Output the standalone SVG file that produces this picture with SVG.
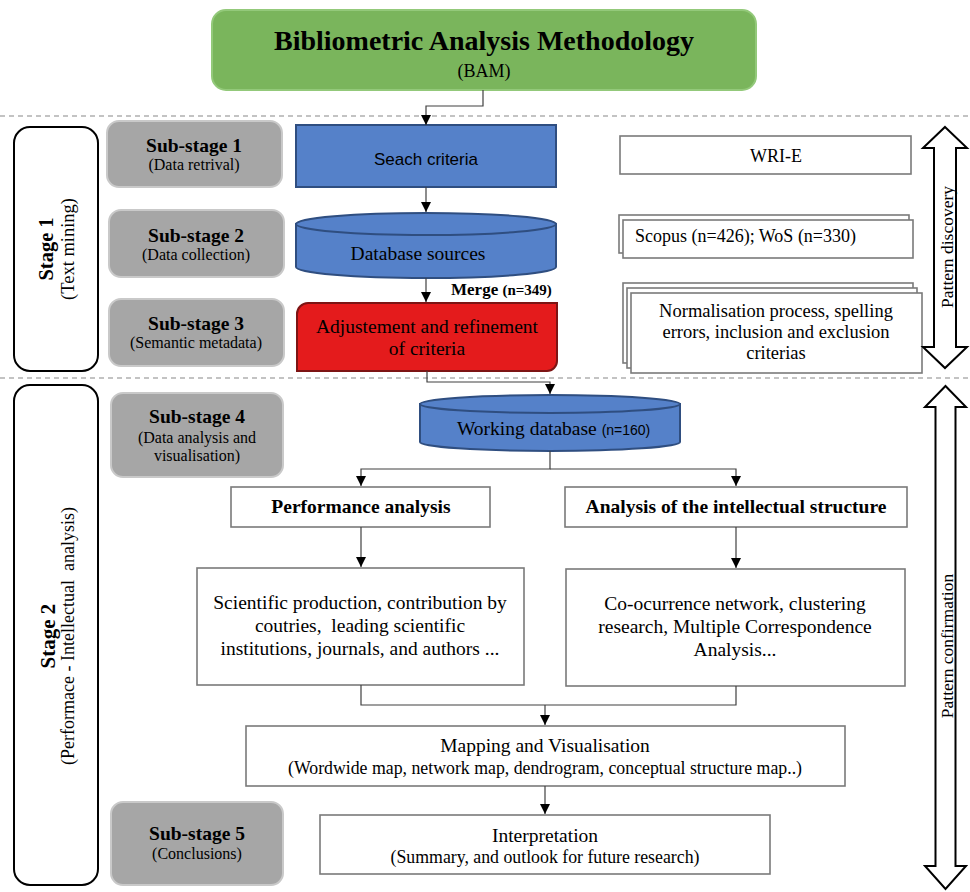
<svg xmlns="http://www.w3.org/2000/svg" width="970" height="892" viewBox="0 0 970 892">
<defs>
<marker id="ah" viewBox="0 0 10 10" refX="10" refY="5" markerWidth="10" markerHeight="10" markerUnits="userSpaceOnUse" orient="auto">
<path d="M0,0 L10,5 L0,10 Z" fill="#000"/>
</marker>
</defs>
<style>
text{font-family:"Liberation Serif","Times New Roman",serif;fill:#000}
.sans{font-family:"Liberation Sans",Arial,sans-serif}
.b{font-weight:bold}
.gray{fill:#a6a6a6;stroke:#c9c9c9;stroke-width:2}
.wb{fill:#fff;stroke:#7a7a7a;stroke-width:1.6}
.blue{fill:#5581c9;stroke:#2f4e80;stroke-width:2}
.stage{fill:#fff;stroke:#000;stroke-width:2}
.dash{stroke:#b0b0b0;stroke-width:1.3;stroke-dasharray:5 4;fill:none}
.con{fill:none;stroke:#404040;stroke-width:1.2}
.dbl{fill:#fff;stroke:#000;stroke-width:2;stroke-linejoin:miter}
.m{text-anchor:middle}
</style>

<line class="dash" x1="0" y1="116" x2="970" y2="116"/>
<line class="dash" x1="0" y1="378" x2="970" y2="378"/>

<g id="title">
<rect x="212" y="10" width="544" height="80" rx="14" fill="#7ab55c" stroke="#93c97a" stroke-width="2"/>
<text class="m b" x="484" y="50" font-size="28">Bibliometric Analysis Methodology</text>
<text class="m" x="484" y="77" font-size="18">(BAM)</text>
</g>

<g id="stage1">
<rect class="stage" x="14" y="127" width="84" height="244" rx="16"/>
<g transform="translate(53,249) rotate(-90)">
<text class="m b" x="0" y="0" font-size="20.5">Stage 1</text>
<text class="m" x="0" y="21" font-size="18.5">(Text mining)</text>
</g>
</g>

<g id="stage2">
<rect class="stage" x="14" y="385" width="84" height="500" rx="16"/>
<g transform="translate(55,636) rotate(-90)">
<text class="m b" x="0" y="0" font-size="21">Stage 2</text>
<text class="m" x="0" y="19" font-size="18" xml:space="preserve">(Performace - Intellectual  analysis)</text>
</g>
</g>

<g id="sub1">
<rect class="gray" x="107" y="121" width="175" height="66" rx="12"/>
<text class="m b" x="194" y="152" font-size="19.5">Sub-stage 1</text>
<text class="m" x="194" y="170" font-size="16">(Data retrival)</text>
</g>
<g id="sub2">
<rect class="gray" x="109" y="210" width="175" height="67" rx="12"/>
<text class="m b" x="196" y="242" font-size="19.5">Sub-stage 2</text>
<text class="m" x="196" y="260" font-size="16">(Data collection)</text>
</g>
<g id="sub3">
<rect class="gray" x="109" y="299" width="175" height="67" rx="12"/>
<text class="m b" x="196" y="330" font-size="19.5">Sub-stage 3</text>
<text class="m" x="196" y="348" font-size="16">(Semantic metadata)</text>
</g>
<g id="sub4">
<rect class="gray" x="111" y="393" width="172" height="84" rx="12"/>
<text class="m b" x="197" y="423" font-size="19.5">Sub-stage 4</text>
<text class="m" x="197" y="443" font-size="16">(Data analysis and</text>
<text class="m" x="197" y="461" font-size="16">visualisation)</text>
</g>
<g id="sub5">
<rect class="gray" x="111" y="802" width="172" height="83" rx="12"/>
<text class="m b" x="197" y="840" font-size="19.5">Sub-stage 5</text>
<text class="m" x="197" y="859" font-size="16">(Conclusions)</text>
</g>

<g id="search">
<rect class="blue" x="296" y="125" width="260" height="62"/>
<text class="m sans" x="426" y="165" font-size="17">Seach criteria</text>
</g>

<g id="dbsources">
<path class="blue" d="M296,224 V267 A130,11 0 0 0 556,267 V224 Z"/>
<ellipse class="blue" cx="426" cy="224" rx="130" ry="11"/>
<text class="m" x="418" y="260" font-size="19.5">Database sources</text>
</g>

<g id="adjust">
<path d="M308,303 H557 V361 A10,10 0 0 1 547,371 H297 V314 A11,11 0 0 1 308,303 Z" fill="#e41b1c" stroke="#7d1414" stroke-width="2"/>
<text class="m" x="427" y="333" font-size="19.5">Adjustement and refinement</text>
<text class="m" x="427" y="355" font-size="19.5">of criteria</text>
</g>

<g id="merge">
<text x="451" y="295" class="b" font-size="17">Merge <tspan font-size="15">(n=349)</tspan></text>
</g>

<g id="wri">
<rect class="wb" x="620" y="136" width="291" height="38"/>
<text class="m" x="776" y="162" font-size="18">WRI-E</text>
</g>

<g id="scopus">
<rect class="wb" x="619" y="215" width="290" height="38"/>
<rect class="wb" x="623" y="220" width="290" height="38"/>
<text x="635" y="242" font-size="18">Scopus (n=426); WoS (n=330)</text>
</g>

<g id="normal">
<rect class="wb" x="623" y="283" width="290" height="80"/>
<rect class="wb" x="627" y="288" width="290" height="80"/>
<rect class="wb" x="631" y="293" width="291" height="80"/>
<text class="m" x="776" y="317" font-size="18.5">Normalisation process, spelling</text>
<text class="m" x="776" y="338" font-size="18.5">errors, inclusion and exclusion</text>
<text class="m" x="776" y="359" font-size="18.5">criterias</text>
</g>

<g id="pdisc">
<path class="dbl" d="M945,127 L967,148 L956,148 L956,347 L967,347 L945,368 L923,347 L934,347 L934,148 L923,148 Z"/>
<text class="m" transform="translate(953,247) rotate(-90)" font-size="17.5">Pattern discovery</text>
</g>

<g id="pconf">
<path class="dbl" d="M945.5,386 L966,407 L955.5,407 L955.5,866 L966,866 L945.5,889 L925,866 L935.5,866 L935.5,407 L925,407 Z"/>
<text class="m" transform="translate(953,646) rotate(-90)" font-size="17.5">Pattern confirmation</text>
</g>

<g id="workingdb">
<path class="blue" d="M420,404 V442 A130,9 0 0 0 680,442 V404 Z"/>
<ellipse class="blue" cx="550" cy="404" rx="130" ry="9"/>
<text x="457" y="435" font-size="19.5">Working database <tspan class="sans" font-size="14" style="font-family:'Liberation Sans',Arial,sans-serif">(n=160)</tspan></text>
</g>

<g id="perf">
<rect class="wb" x="231" y="487" width="259" height="40"/>
<text class="m b" x="361" y="513" font-size="19.5">Performance analysis</text>
</g>
<g id="intel">
<rect class="wb" x="565" y="487" width="342" height="40"/>
<text class="m b" x="736" y="513" font-size="19.5">Analysis of the intellectual structure</text>
</g>

<g id="sci">
<rect class="wb" x="197" y="568" width="327" height="117"/>
<text class="m" x="360" y="609" font-size="19.5">Scientific production, contribution by</text>
<text class="m" x="360" y="632" font-size="19.5" xml:space="preserve">coutries,  leading scientific</text>
<text class="m" x="360" y="655" font-size="19.5">institutions, journals, and authors ...</text>
</g>
<g id="cooc">
<rect class="wb" x="566" y="569" width="339" height="117"/>
<text class="m" x="735" y="610" font-size="19.5">Co-ocurrence network, clustering</text>
<text class="m" x="735" y="633" font-size="19.5">research, Multiple Correspondence</text>
<text class="m" x="735" y="656" font-size="19.5">Analysis...</text>
</g>

<g id="mapping">
<rect class="wb" x="246" y="726" width="599" height="60"/>
<text class="m" x="545" y="752" font-size="19.5">Mapping and Visualisation</text>
<text class="m" x="545" y="774" font-size="17.8">(Wordwide map, network map, dendrogram, conceptual structure map..)</text>
</g>

<g id="interp">
<rect class="wb" x="320" y="815" width="450" height="59"/>
<text class="m" x="545" y="842" font-size="19.5">Interpretation</text>
<text class="m" x="545" y="863" font-size="17.8">(Summary, and outlook for future research)</text>
</g>

<g id="connectors">
<path class="con" d="M483,90 V106 H426 V125" marker-end="url(#ah)"/>
<path class="con" d="M426,187 V212" marker-end="url(#ah)"/>
<path class="con" d="M426,278 V302" marker-end="url(#ah)"/>
<path class="con" d="M427,371 V382 H550 V394" marker-end="url(#ah)"/>
<path class="con" d="M550,451 V469 H361 V486" marker-end="url(#ah)"/>
<path class="con" d="M550,469 H736 V486" marker-end="url(#ah)"/>
<path class="con" d="M361,527 V567" marker-end="url(#ah)"/>
<path class="con" d="M736,527 V568" marker-end="url(#ah)"/>
<path class="con" d="M361,685 V705 H736 V686"/>
<path class="con" d="M545,705 V725" marker-end="url(#ah)"/>
<path class="con" d="M545,786 V814" marker-end="url(#ah)"/>
</g>
</svg>
